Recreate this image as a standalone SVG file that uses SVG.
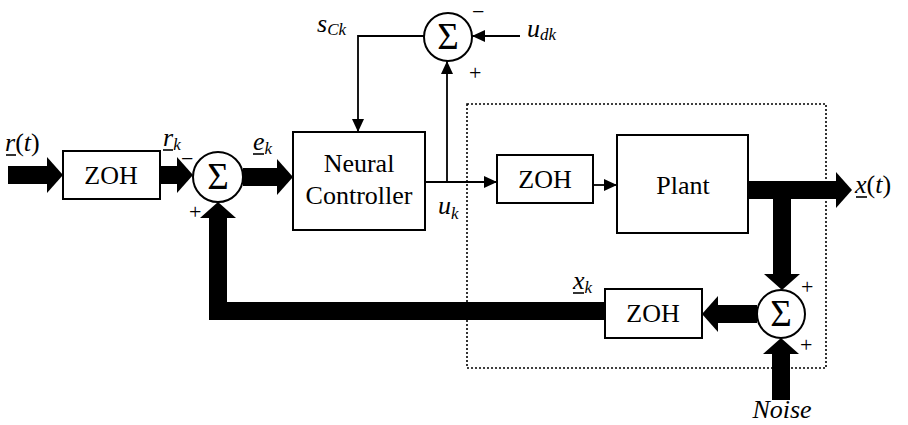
<svg xmlns="http://www.w3.org/2000/svg" width="908" height="425" viewBox="0 0 908 425">
<style>
.box{fill:#fff;stroke:#000;stroke-width:2}
.sum{fill:#fff;stroke:#000;stroke-width:2}
text{font-family:'Liberation Serif','Times New Roman',serif;fill:#000}
.t{font-size:26px}
.c{text-anchor:middle}
.i{font-style:italic}
.sub{font-size:17px}
.sig{font-size:37px;text-anchor:middle}
.sg{font-size:22px}
.thick{fill:none;stroke:#000;stroke-width:18;stroke-linejoin:miter;marker-end:url(#hk)}
.thin{fill:none;stroke:#000;stroke-width:1.8;marker-end:url(#hn)}
.ul{stroke:#000;stroke-width:1.6}
.dot{fill:none;stroke:#000;stroke-width:1.6;stroke-dasharray:2 2}
</style>
<defs>
<marker id="hk" markerUnits="userSpaceOnUse" viewBox="0 -18 16 36" refX="0" refY="0" markerWidth="16" markerHeight="36" orient="auto" overflow="visible">
<path d="M0,-18 L16,0 L0,18 Z" fill="#000"/>
</marker>
<marker id="hn" markerUnits="userSpaceOnUse" viewBox="0 -6 13 12" refX="13" refY="0" markerWidth="13" markerHeight="12" orient="auto">
<path d="M0,-6 L13,0 L0,6 Z" fill="#000"/>
</marker>
</defs>
<rect class="dot" x="467" y="104" width="359" height="264"/>
<g id="connectors">
<line class="thick" x1="8" y1="175" x2="47" y2="175"/>
<line class="thick" x1="160" y1="175" x2="177" y2="175"/>
<line class="thick" x1="243" y1="177" x2="277" y2="177"/>
<line class="thin" x1="425" y1="182" x2="497" y2="182"/>
<line class="thin" x1="447" y1="182" x2="447" y2="61"/>
<line class="thin" x1="593" y1="185" x2="617" y2="185"/>
<line class="thick" x1="748" y1="190" x2="836" y2="190"/>
<line class="thick" x1="782" y1="190" x2="782" y2="274"/>
<line class="thick" x1="757" y1="314" x2="718" y2="314"/>
<line class="thick" x1="781" y1="400" x2="781" y2="354"/>
<path class="thick" d="M605,311 L218,311 L218,218"/>
<polyline class="thin" points="424,36 358,36 358,132"/>
<line class="thin" x1="520" y1="36" x2="472" y2="36"/>
</g>
<g id="zoh1">
<rect class="box" x="63" y="151" width="97" height="48"/>
<text class="t c" x="111" y="184">ZOH</text>
</g>
<g id="sum1">
<circle class="sum" cx="218" cy="177" r="25"/>
<text class="sig" x="218" y="189">Σ</text>
</g>
<g id="neural-controller">
<rect class="box" x="293" y="132" width="132" height="98"/>
<text class="t c" x="359" y="172">Neural</text>
<text class="t c" x="359" y="204">Controller</text>
</g>
<g id="sum2">
<circle class="sum" cx="448" cy="37" r="24"/>
<text class="sig" x="448" y="49">Σ</text>
</g>
<g id="zoh2">
<rect class="box" x="497" y="155" width="96" height="48"/>
<text class="t c" x="545" y="188">ZOH</text>
</g>
<g id="plant">
<rect class="box" x="617" y="135" width="131" height="98"/>
<text class="t c" x="683" y="194">Plant</text>
</g>
<g id="sum3">
<circle class="sum" cx="781" cy="314" r="24"/>
<text class="sig" x="781" y="326">Σ</text>
</g>
<g id="zoh3">
<rect class="box" x="605" y="289" width="97" height="49"/>
<text class="t c" x="653" y="322">ZOH</text>
</g>
<g id="labels">
<text class="t" x="5" y="151"><tspan class="i">r</tspan>(<tspan class="i">t</tspan>)</text>
<line class="ul" x1="6" y1="155" x2="16" y2="155"/>
<text class="t i" x="163" y="146">r<tspan class="sub" dy="4">k</tspan></text>
<line class="ul" x1="163" y1="150" x2="173" y2="150"/>
<text class="sg" x="181" y="166">−</text>
<text class="sg" x="189" y="219">+</text>
<text class="t i" x="253" y="150">e<tspan class="sub" dy="4">k</tspan></text>
<line class="ul" x1="253" y1="154" x2="264" y2="154"/>
<text class="t i" x="438" y="214">u<tspan class="sub" dy="5">k</tspan></text>
<text class="t i" x="317" y="32">s<tspan class="sub" dy="3">Ck</tspan></text>
<text class="t i" x="527" y="37">u<tspan class="sub" dy="3">dk</tspan></text>
<text class="sg" x="472" y="19">−</text>
<text class="sg" x="469" y="80">+</text>
<text class="t" x="855" y="193"><tspan class="i">x</tspan>(<tspan class="i">t</tspan>)</text>
<line class="ul" x1="856" y1="197" x2="867" y2="197"/>
<text class="t i" x="573" y="289">x<tspan class="sub" dy="4">k</tspan></text>
<line class="ul" x1="573" y1="293" x2="584" y2="293"/>
<text class="sg" x="801" y="294">+</text>
<text class="sg" x="800" y="352">+</text>
<text class="t i c" x="782" y="418">Noise</text>
</g>
</svg>
